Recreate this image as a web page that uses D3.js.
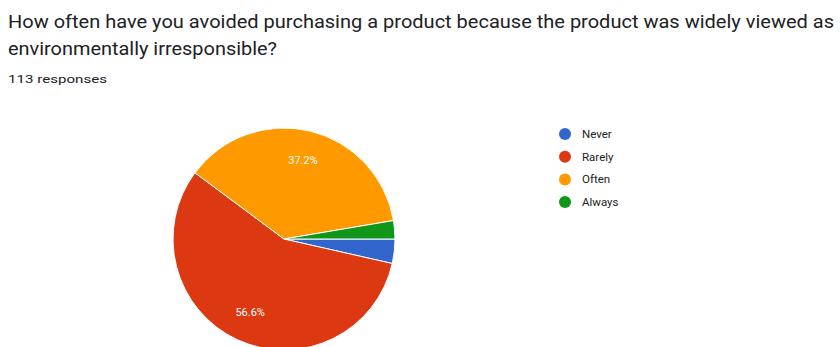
<!DOCTYPE html>
<html>
<head>
<meta charset="utf-8">
<script src="https://cdn.jsdelivr.net/npm/d3@7"></script>
<style>
  html, body { margin: 0; padding: 0; background: #fff; }
  svg { display: block; }
</style>
</head>
<body>
<svg id="chart" width="840" height="347"></svg>
<script>
// Survey answers and response counts (113 responses in total)
const categories = ["Never", "Rarely", "Often", "Always"];
const counts = [4, 64, 42, 3];
const colors = ["#3366cc", "#dc3912", "#ff9900", "#109618"];
const titleLines = [
  "How often have you avoided purchasing a product because the product was widely viewed as",
  "environmentally irresponsible?"
];
const subtitle = "113 responses";

const svg = d3.select("#chart");
const font = "Roboto, 'Noto Sans', Arial, sans-serif";

// Title block
svg.append("text")
  .attr("x", 8).attr("y", 28)
  .attr("font-family", font).attr("font-size", 17.5)
  .attr("fill", "#202124")
  .attr("textLength", 826).attr("lengthAdjust", "spacingAndGlyphs")
  .text(titleLines[0]);
svg.append("text")
  .attr("x", 8).attr("y", 55)
  .attr("font-family", font).attr("font-size", 17.5)
  .attr("fill", "#202124")
  .attr("textLength", 269).attr("lengthAdjust", "spacingAndGlyphs")
  .text(titleLines[1]);
svg.append("text")
  .attr("x", 8).attr("y", 83)
  .attr("font-family", font).attr("font-size", 11)
  .attr("fill", "#202124")
  .attr("textLength", 99).attr("lengthAdjust", "spacingAndGlyphs")
  .text(subtitle);

// Pie
const cx = 284, cy = 239, r = 111;
const total = d3.sum(counts);
const color = d3.scaleOrdinal().domain(categories).range(colors);

const pie = d3.pie()
  .sort(null)
  .value(d => d.value)
  .startAngle(Math.PI / 2)
  .endAngle(Math.PI / 2 + 2 * Math.PI);

const data = categories.map((c, i) => ({ name: c, value: counts[i] }));
const arcs = pie(data);

const arc = d3.arc().innerRadius(0).outerRadius(r);
const labelArc = d3.arc().innerRadius(r * 0.73).outerRadius(r * 0.73);

const g = svg.append("g").attr("transform", `translate(${cx},${cy})`);

g.selectAll("path.slice")
  .data(arcs)
  .join("path")
  .attr("class", "slice")
  .attr("d", arc)
  .attr("fill", d => color(d.data.name))
  .attr("stroke", "#fff")
  .attr("stroke-width", 1);

// Percent labels on slices large enough to hold them
g.selectAll("text.pct")
  .data(arcs.filter(d => d.value / total > 0.05))
  .join("text")
  .attr("class", "pct")
  .attr("transform", d => `translate(${labelArc.centroid(d)})`)
  .attr("text-anchor", "middle")
  .attr("dy", "0.35em")
  .attr("font-family", font)
  .attr("font-size", 11)
  .attr("fill", "#fff")
  .text(d => (d.value / total * 100).toFixed(1) + "%");

// Legend
const legend = svg.append("g").attr("transform", "translate(565,134)");
const item = legend.selectAll("g")
  .data(categories)
  .join("g")
  .attr("transform", (d, i) => `translate(0,${i * 22.7})`);
item.append("circle")
  .attr("r", 6)
  .attr("fill", d => color(d));
item.append("text")
  .attr("x", 17)
  .attr("dy", "0.35em")
  .attr("font-family", font)
  .attr("font-size", 11.5)
  .attr("fill", "#222")
  .text(d => d);
</script>
</body>
</html>
